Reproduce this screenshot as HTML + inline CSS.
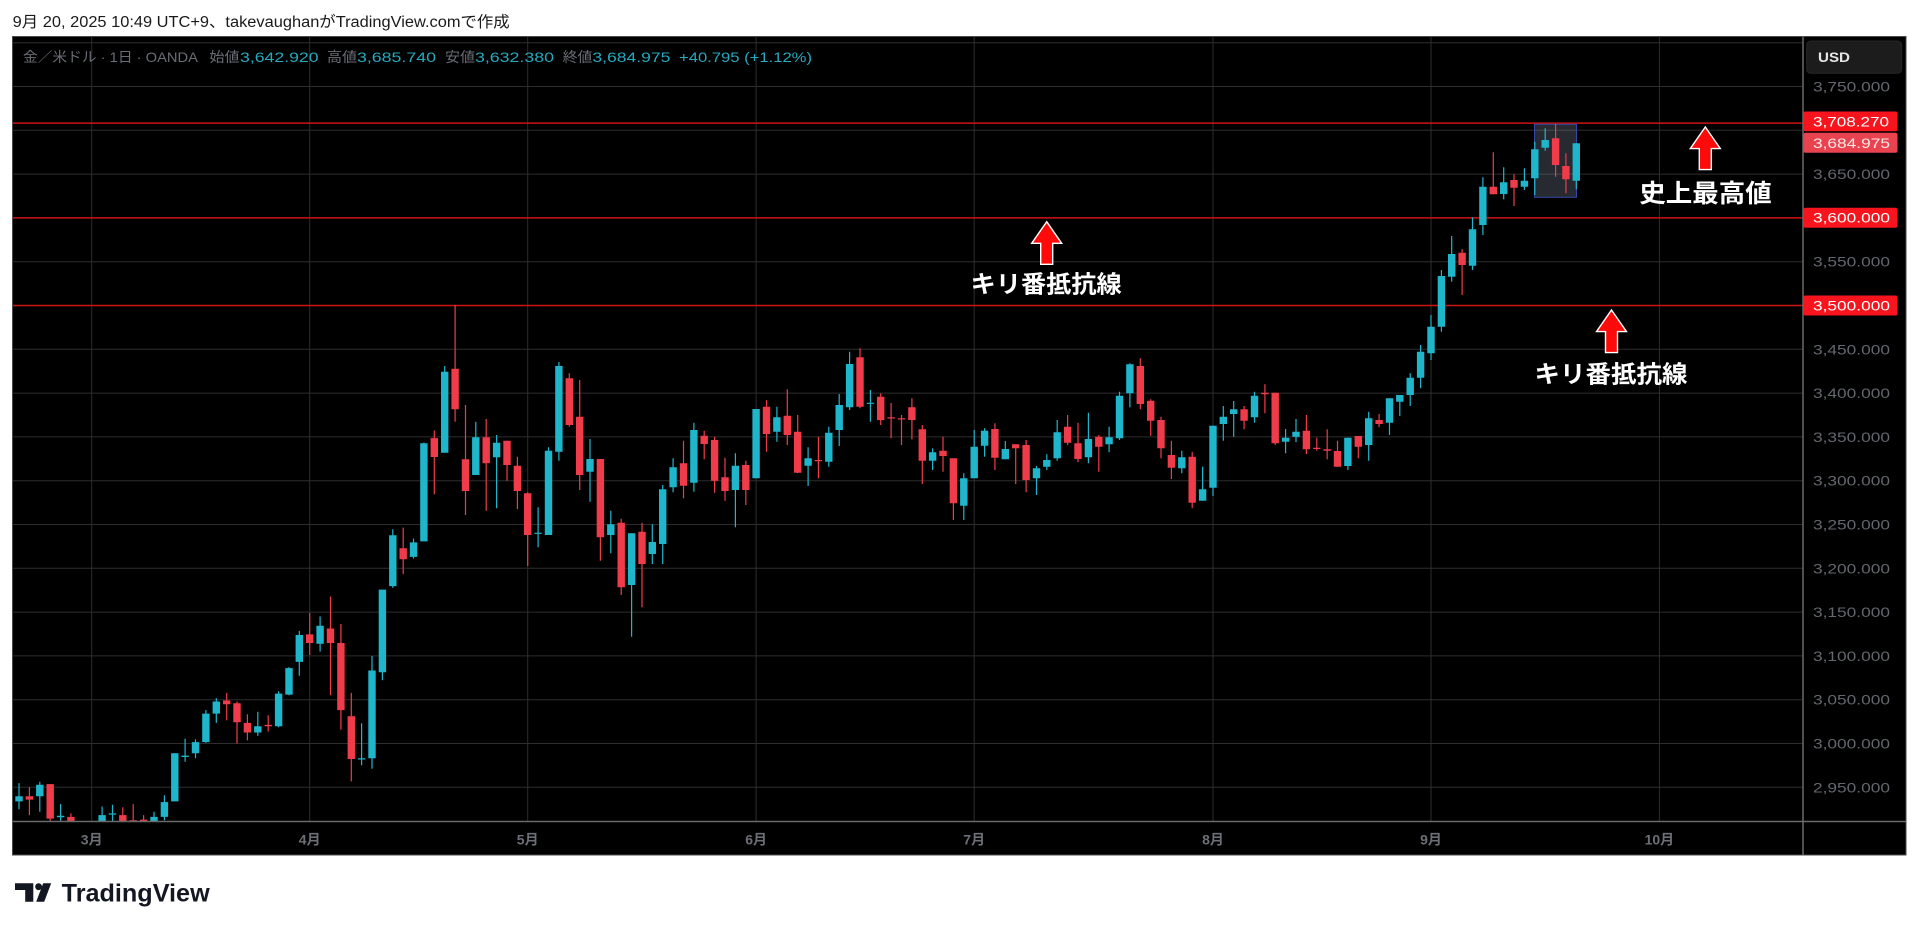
<!DOCTYPE html>
<html><head><meta charset="utf-8"><style>
html,body{margin:0;padding:0;background:#fff;width:1920px;height:927px;overflow:hidden}
svg{display:block}
text{font-family:"Liberation Sans","Noto Sans CJK JP",sans-serif}
</style></head><body>
<svg width="1920" height="927" viewBox="0 0 1920 927" xmlns="http://www.w3.org/2000/svg">
<rect x="0" y="0" width="1920" height="927" fill="#fff"/>
<text x="12.7" y="27" font-size="15.5" fill="#1a1a1a" textLength="497" lengthAdjust="spacingAndGlyphs">9月 20, 2025 10:49 UTC+9、takevaughanがTradingView.comで作成</text>
<rect x="12.5" y="36.5" width="1893.5" height="818.5" fill="#000" stroke="#4a4a4a" stroke-width="1"/>
<defs><clipPath id="plot"><rect x="13" y="37" width="1790.5" height="784.5"/></clipPath></defs>
<g stroke="#2e2e2e" stroke-width="1">
<path d="M13 42.7H1803M13 86.5H1803M13 130.3H1803M13 174.1H1803M13 217.9H1803M13 261.7H1803M13 305.5H1803M13 349.3H1803M13 393.1H1803M13 436.9H1803M13 480.7H1803M13 524.5H1803M13 568.3H1803M13 612.1H1803M13 655.9H1803M13 699.7H1803M13 743.5H1803M13 787.3H1803"/>
<path d="M91.7 37V821M309.7 37V821M527.7 37V821M756.1 37V821M974.2 37V821M1213 37V821M1431 37V821M1659.4 37V821"/>
</g>
<g font-size="14">
<text x="23" y="62" fill="#6a6d76" textLength="175" lengthAdjust="spacingAndGlyphs">金／米ドル · 1日 · OANDA</text>
<text x="209.5" y="62" fill="#6a6d76" textLength="30" lengthAdjust="spacingAndGlyphs">始値</text>
<text x="240" y="62" fill="#26a9bf" textLength="78.6" lengthAdjust="spacingAndGlyphs">3,642.920</text>
<text x="327" y="62" fill="#6a6d76" textLength="30" lengthAdjust="spacingAndGlyphs">高値</text>
<text x="357" y="62" fill="#26a9bf" textLength="79" lengthAdjust="spacingAndGlyphs">3,685.740</text>
<text x="445" y="62" fill="#6a6d76" textLength="30" lengthAdjust="spacingAndGlyphs">安値</text>
<text x="475" y="62" fill="#26a9bf" textLength="79" lengthAdjust="spacingAndGlyphs">3,632.380</text>
<text x="562.6" y="62" fill="#6a6d76" textLength="29.8" lengthAdjust="spacingAndGlyphs">終値</text>
<text x="592.4" y="62" fill="#26a9bf" textLength="78" lengthAdjust="spacingAndGlyphs">3,684.975</text>
<text x="679" y="62" fill="#26a9bf" textLength="133" lengthAdjust="spacingAndGlyphs">+40.795 (+1.12%)</text>
</g>
<g clip-path="url(#plot)">
<path d="M13 123.1H1803M13 217.9H1803M13 305.5H1803" stroke="#cc1414" stroke-width="1.5"/>
<rect x="1534.5" y="124.3" width="42" height="73" fill="rgba(130,140,160,0.3)" stroke="#3349a8" stroke-width="1"/>
<path fill="none" stroke="#1fb6cc" stroke-width="1.2" d="M19 783.1V809.3M39.8 781.7V811.7M60.6 804.1V822M102.1 806.5V822M112.5 804.8V822M154 811.7V822M164.4 795.2V820.3M174.8 753.2V801.4M185.1 738.7V761.8M195.5 739.4V758.3M205.9 710.1V742.8M216.3 698.1V722.9M257.8 711.8V735.9M278.6 691.2V727.3M289 667.1V695.3M299.3 630.9V675.7M320.1 616.4V651.6M361.6 723.2V765.2M372 656V768.7M382.4 589.6V680.2M392.8 529.3V587.9M413.5 538.6V558.6M423.9 442.5V541.4M444.7 366V452.7M475.8 421.7V475M496.6 435V508.3M538.1 507.3V547.3M548.5 447.3V535M558.9 362V460.7M590 439V501.7M610.8 510.7V553.3M631.6 533.3V636.7M652.3 524.3V564M662.7 485V564M673.1 458.3V492.3M693.9 422.7V491.7M735.4 453.3V527.3M756.1 409V478.3M776.9 406.7V441.7M808.1 447.3V486M828.8 426.7V466.7M839.2 394V446M849.6 351.7V410M870.4 390V421.7M932.6 448.3V470M963.8 473.3V520M974.2 430V478.3M984.6 428.3V456.7M1005.3 441V459.3M1036.5 466V495M1046.8 454.3V470M1057.2 420V460.7M1088.4 412.7V463.3M1109.1 426.7V452.3M1119.5 391.7V440M1129.9 363.3V407.3M1181.8 450.7V473.3M1202.6 466.7V500.7M1213 425.7V496M1223.3 406V440.7M1233.7 401V436.7M1254.5 391.7V422.7M1285.6 429V453.3M1296 419V442.3M1347.9 437.7V470M1368.7 411.7V460.7M1389.5 398.3V435M1399.8 395V416M1410.2 373.3V406M1420.6 345V388.3M1431 315V360M1441.4 270V331.7M1451.7 236V281.7M1472.5 217.3V270M1482.9 177.3V235M1503.7 167.3V199.3M1524.4 168.3V190M1534.8 141.7V195M1545.2 128.3V150.7M1576.3 143.3V189.3"/>
<path fill="none" stroke="#1fb6cc" stroke-width="7.4" d="M19 796.2V801.4M39.8 784.8V796.2M60.6 815.8V817.2M102.1 815.1V822M112.5 813.4V814.6M154 816.9V822M164.4 802.1V816.9M174.8 753.2V801.4M185.1 755.6V757M195.5 742.1V753.2M205.9 713.6V742.1M216.3 701.5V713.6M257.8 726.3V732.5M278.6 693.6V726.3M289 668.1V694.6M299.3 635V661.9M320.1 625.7V643.7M361.6 758.3V759.5M372 670.5V758.3M382.4 589.6V672.2M392.8 535.2V586.1M413.5 542.4V556.9M423.9 443.2V541.4M444.7 371.7V452.7M475.8 437.3V475M496.6 442.7V457.3M538.1 532.7V533.9M548.5 450.7V535M558.9 366V451.7M590 459V471.7M610.8 524.3V535M631.6 533.3V585M652.3 542V554M662.7 489.3V544M673.1 467.3V487.3M693.9 430V482.7M735.4 465.7V490M756.1 409V478.3M776.9 417.3V431.7M808.1 458.3V465.7M828.8 432.7V461.7M839.2 405V430M849.6 364V407.3M870.4 402.7V403.9M932.6 452.3V460.7M963.8 478.3V505.7M974.2 446.7V478.3M984.6 430.7V445.7M1005.3 449V459.3M1036.5 468.3V478.3M1046.8 460V466.7M1057.2 432.3V458.3M1088.4 439V457.3M1109.1 437.3V444.3M1119.5 395.7V438.3M1129.9 364.3V393.3M1181.8 457.3V468.3M1202.6 489.3V500.7M1213 425.7V487.7M1223.3 416.7V424M1233.7 409.3V414M1254.5 395.7V417.3M1285.6 437.7V441.7M1296 431.7V436.7M1347.9 437.7V466M1368.7 418.3V445M1389.5 398.3V422.7M1399.8 395V401.7M1410.2 377.7V395M1420.6 351.7V377.7M1431 326.7V353.3M1441.4 276V326.7M1451.7 254V276.7M1472.5 229.3V265.7M1482.9 186.7V225M1503.7 182.3V194M1524.4 180.7V186.7M1534.8 149.3V178.3M1545.2 140V147.7M1576.3 143.3V180.7"/>
<path fill="none" stroke="#ef3b4a" stroke-width="1.2" d="M29.4 787.2V815.1M50.2 784.1V822M70.9 813.4V822M122.8 807.2V822M133.2 804.1V822M143.6 815.1V822M226.7 692.9V720.4M237 701.5V743.5M247.4 714.2V740.4M268.2 715.3V731.5M309.7 613V655M330.5 596.5V695.3M340.9 624V729.7M351.3 692.9V781.4M403.2 527.6V574.1M434.3 430.5V494.2M455.1 305V421.7M465.5 405V515M486.2 419V510.7M507 440.7V480.7M517.4 456.7V509M527.7 492.3V566M569.3 373.3V426.7M579.7 380V490M600.4 459V560.7M621.2 518.7V595M642 522.7V607.3M683.5 440.7V498.3M704.2 430.7V459.3M714.6 436.7V492.7M725 457.7V500.7M745.8 460.7V505M766.5 400V451.7M787.3 389.3V445M797.7 415V473.3M818.4 436.7V478.3M860 348.3V408.3M880.7 393.3V425M891.1 403V438.3M901.5 415V445M911.9 398.3V439.3M922.3 425V484M943 436.7V471.7M953.4 458.3V520M994.9 423.3V470M1015.7 444.3V484M1026.1 440V492.3M1067.6 415V445M1078 422.7V462.3M1098.8 435V471.7M1140.3 358.3V409.3M1150.7 399.3V435.7M1161 416.7V458.3M1171.4 440.7V479M1192.2 451.7V508.3M1244.1 406V429.3M1264.9 384.3V413.3M1275.2 392.7V445M1306.4 415V454M1316.8 437.7V450.7M1327.2 429.3V459.3M1337.5 440.7V466.7M1358.3 436V458.3M1379.1 414V427.3M1462.1 249.3V295M1493.3 152.3V194.3M1514 174.3V206M1555.6 124V176.7M1565.9 153.3V193.3"/>
<path fill="none" stroke="#ef3b4a" stroke-width="7.4" d="M29.4 796.2V799.6M50.2 784.1V818.6M70.9 816.9V822M122.8 815.1V822M133.2 820.3V822M143.6 819.6V822M226.7 700.5V704.3M237 703.2V722.2M247.4 722.9V732.5M268.2 724.9V726.3M309.7 634.4V643M330.5 628.5V643M340.9 643V710.1M351.3 716.3V759M403.2 548.3V559.3M434.3 438.1V457M455.1 368.7V409.3M465.5 459.3V491M486.2 437.3V463.3M507 440.7V465M517.4 465.7V491M527.7 493.3V535M569.3 378.3V425M579.7 416.7V475M600.4 459V537.3M621.2 522.7V587.3M642 531.7V564M683.5 463.3V485.7M704.2 435.7V444M714.6 440V480.7M725 477.3V491M745.8 465V490M766.5 406.7V434M787.3 415.7V435M797.7 431.7V472.7M818.4 460V461.3M860 357.3V406.7M880.7 396.7V420M891.1 417.3V418.5M901.5 418.3V419.5M911.9 407.3V420M922.3 429.3V460.7M943 450.7V456M953.4 458.3V503.3M994.9 429V457.7M1015.7 444.3V448.3M1026.1 445V480M1067.6 426.7V442.7M1078 443.3V459M1098.8 436.7V446.7M1140.3 366V404M1150.7 400.7V420.7M1161 420V448.3M1171.4 455V467.7M1192.2 456.7V502.7M1244.1 409.3V420.7M1264.9 392.7V394.3M1275.2 392.7V443.3M1306.4 430.7V449.3M1316.8 447.7V449M1327.2 449.3V450.7M1337.5 451V466.7M1358.3 436V446.7M1379.1 420V424M1462.1 252.7V265M1493.3 186.7V194.3M1514 180V187.7M1555.6 138.3V165M1565.9 166V179.3"/>
</g>
<g fill="#ff0a0a" stroke="#fff" stroke-width="1.4" stroke-linejoin="miter">
<polygon points="1046.7,221.7 1061.7,243.3 1052.7,243.3 1052.7,264.3 1040.7,264.3 1040.7,243.3 1031.7,243.3"/>
<polygon points="1611.5,310 1626.5,331.6 1617.5,331.6 1617.5,352.6 1605.5,352.6 1605.5,331.6 1596.5,331.6"/>
<polygon points="1705.3,127 1720.3,148.6 1711.3,148.6 1711.3,169.6 1699.3,169.6 1699.3,148.6 1690.3,148.6"/>
</g>
<g fill="#fff" font-weight="bold" dominant-baseline="central">
<text x="970.7" y="285" font-size="24" textLength="151" lengthAdjust="spacingAndGlyphs">キリ番抵抗線</text>
<text x="1534.5" y="375" font-size="24" textLength="153" lengthAdjust="spacingAndGlyphs">キリ番抵抗線</text>
<text x="1639.3" y="194" font-size="25" textLength="132.4" lengthAdjust="spacingAndGlyphs">史上最高値</text>
</g>
<path d="M12.5 821.5H1906" stroke="#6a6a6a" stroke-width="1.5"/>
<path d="M1803 36.5V855" stroke="#6a6a6a" stroke-width="1.5"/>
<rect x="1806.7" y="41" width="95" height="32.3" rx="4" fill="#1c1c1c" stroke="#262626"/>
<text x="1818" y="62" font-size="14" font-weight="bold" fill="#e6e6e6" textLength="32" lengthAdjust="spacingAndGlyphs">USD</text>
<g font-size="14" fill="#64676e">
<text x="1813" y="91.5" textLength="77" lengthAdjust="spacingAndGlyphs">3,750.000</text>
<text x="1813" y="179.1" textLength="77" lengthAdjust="spacingAndGlyphs">3,650.000</text>
<text x="1813" y="266.7" textLength="77" lengthAdjust="spacingAndGlyphs">3,550.000</text>
<text x="1813" y="354.3" textLength="77" lengthAdjust="spacingAndGlyphs">3,450.000</text>
<text x="1813" y="398.1" textLength="77" lengthAdjust="spacingAndGlyphs">3,400.000</text>
<text x="1813" y="441.9" textLength="77" lengthAdjust="spacingAndGlyphs">3,350.000</text>
<text x="1813" y="485.7" textLength="77" lengthAdjust="spacingAndGlyphs">3,300.000</text>
<text x="1813" y="529.5" textLength="77" lengthAdjust="spacingAndGlyphs">3,250.000</text>
<text x="1813" y="573.3" textLength="77" lengthAdjust="spacingAndGlyphs">3,200.000</text>
<text x="1813" y="617.1" textLength="77" lengthAdjust="spacingAndGlyphs">3,150.000</text>
<text x="1813" y="660.9" textLength="77" lengthAdjust="spacingAndGlyphs">3,100.000</text>
<text x="1813" y="704.7" textLength="77" lengthAdjust="spacingAndGlyphs">3,050.000</text>
<text x="1813" y="748.5" textLength="77" lengthAdjust="spacingAndGlyphs">3,000.000</text>
<text x="1813" y="792.3" textLength="77" lengthAdjust="spacingAndGlyphs">2,950.000</text>
</g>
<rect x="1803.5" y="111.5" width="94" height="19.8" rx="2" fill="#f7141c"/>
<rect x="1803.5" y="132.8" width="94" height="20" rx="2" fill="#e9434f"/>
<rect x="1803.5" y="207.7" width="94" height="20" rx="2" fill="#f7141c"/>
<rect x="1803.5" y="295.5" width="94" height="20" rx="2" fill="#f7141c"/>
<g font-size="14" fill="#fff">
<text x="1813" y="126.4" textLength="76" lengthAdjust="spacingAndGlyphs">3,708.270</text>
<text x="1813" y="147.8" fill="#ffe9ea" textLength="77" lengthAdjust="spacingAndGlyphs">3,684.975</text>
<text x="1813" y="222.7" textLength="77" lengthAdjust="spacingAndGlyphs">3,600.000</text>
<text x="1813" y="310.5" textLength="77" lengthAdjust="spacingAndGlyphs">3,500.000</text>
</g>
<g font-size="14" font-weight="bold" fill="#6c6f77" text-anchor="middle">
<text x="91.7" y="844.5">3月</text>
<text x="309.7" y="844.5">4月</text>
<text x="527.7" y="844.5">5月</text>
<text x="756.1" y="844.5">6月</text>
<text x="974.2" y="844.5">7月</text>
<text x="1213" y="844.5">8月</text>
<text x="1431" y="844.5">9月</text>
<text x="1659.4" y="844.5">10月</text>
</g>
<g fill="#131722">
<path d="M15 883.3H33.3V901.7H25.2V890H15Z"/>
<circle cx="38.6" cy="886.7" r="3.4"/>
<polygon points="43.2,883.3 51.2,883.3 44.2,901.7 36.2,901.7"/>
<text x="61.7" y="901.7" font-size="25" font-weight="bold" textLength="148" lengthAdjust="spacingAndGlyphs">TradingView</text>
</g>
</svg>
</body></html>
